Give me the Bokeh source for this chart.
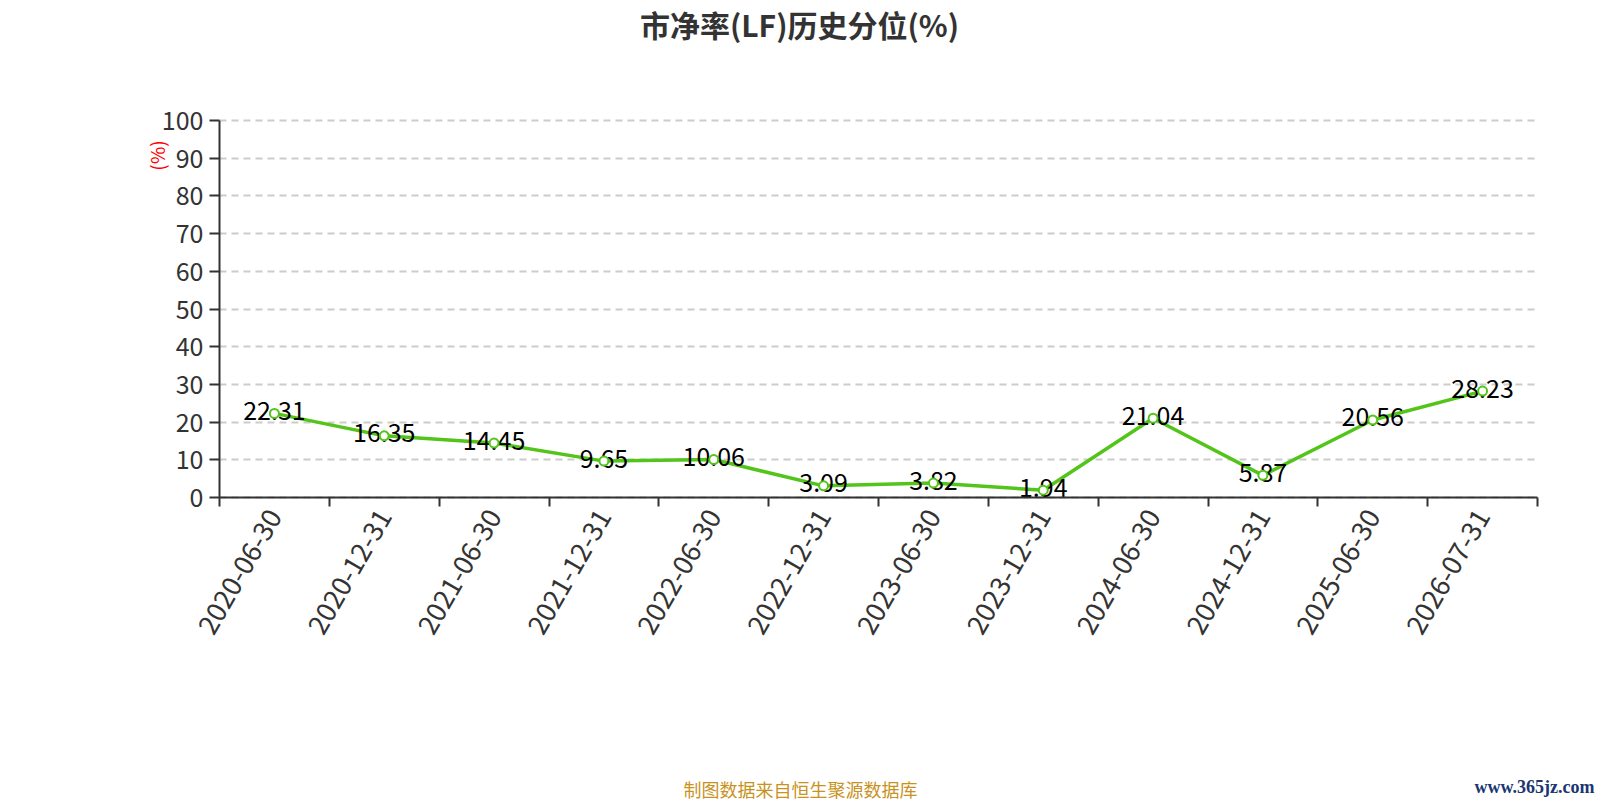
import math
from bokeh.plotting import figure
from bokeh.models import Range1d, FixedTicker, Label
from bokeh.embed import file_html
from bokeh.resources import INLINE
from bokeh.core.properties import value

# ---- data ----
categories = ["2020-06-30", "2020-12-31", "2021-06-30", "2021-12-31", "2022-06-30",
              "2022-12-31", "2023-06-30", "2023-12-31", "2024-06-30", "2024-12-31",
              "2025-06-30", "2026-07-31"]
pb_percentile = [22.31, 16.35, 14.45, 9.65, 10.06, 3.09, 3.82, 1.94, 21.04, 5.87, 20.56, 28.23]
y_ticks = [0, 10, 20, 30, 40, 50, 60, 70, 80, 90, 100]
title_text = "市净率(LF)历史分位(%)"
y_name = "(%)"
footer_text = "制图数据来自恒生聚源数据库"
watermark_text = "www.365jz.com"

# ---- styles / layout ----
GREEN = "#52C41A"
AXIS = "#333333"
FONT = "Noto Sans CJK SC"
W, H = 1600, 800
PL, PR, PT, PB = 219, 1537, 120, 497      # plot area in pixels

n = len(categories)
ux = (PR - PL) / n
uy = (PB - PT) / 100.0


def fx(px):
    return (px - PL) / ux


def fy(py):
    return (PB - py) / uy


x_pos = [i + 0.5 for i in range(n)]
labels_txt = ["%.2f" % v for v in pb_percentile]

p = figure(width=W, height=H,
           x_range=Range1d(fx(0), fx(W)), y_range=Range1d(fy(H), fy(0)),
           output_backend="svg", toolbar_location=None, min_border=0)
p.outline_line_color = None
p.background_fill_color = "white"
p.border_fill_color = "white"

xa = p.xaxis[0]
xa.fixed_location = 0
xa.bounds = (0, n)
xa.ticker = FixedTicker(ticks=x_pos, minor_ticks=list(range(n + 1)))
xa.major_label_overrides = {x: c for x, c in zip(x_pos, categories)}
xa.major_tick_line_color = None
xa.major_tick_in = 0
xa.major_tick_out = 0
xa.minor_tick_in = 0
xa.minor_tick_out = 9
xa.minor_tick_line_color = AXIS
xa.minor_tick_line_width = 2
xa.axis_line_color = AXIS
xa.axis_line_width = 2
xa.major_label_orientation = math.pi / 3
xa.major_label_standoff = 5
xa.major_label_text_font = FONT
xa.major_label_text_font_size = "27px"
xa.major_label_text_color = AXIS

ya = p.yaxis[0]
ya.fixed_location = 0
ya.bounds = (0, 100)
ya.ticker = FixedTicker(ticks=y_ticks, minor_ticks=[])
ya.major_tick_in = 0
ya.major_tick_out = 10
ya.major_tick_line_color = AXIS
ya.major_tick_line_width = 2
ya.axis_line_color = AXIS
ya.axis_line_width = 2
ya.major_label_standoff = 6
ya.major_label_text_font = FONT
ya.major_label_text_font_size = "25px"
ya.major_label_text_color = AXIS

p.xgrid.visible = False
p.ygrid.grid_line_color = "#cccccc"
p.ygrid.grid_line_dash = "7 5"
p.ygrid.grid_line_width = 2
p.ygrid.bounds = (0, 100)
p.ygrid.cross_bounds = (0, n)

p.line(x_pos, pb_percentile, line_color=GREEN, line_width=3.5)
p.text(x=x_pos, y=pb_percentile, text=labels_txt, text_align="center",
       text_baseline="middle", y_offset=-3, text_font=value(FONT),
       text_font_size="25px", text_color="black")
p.scatter(x_pos, pb_percentile, marker="circle", size=9, fill_color="white",
          line_color=GREEN, line_width=2)

p.add_layout(Label(x=fx(799), y=fy(23), text=title_text, text_align="center",
                   text_baseline="middle", text_font=FONT, text_font_size="30px",
                   text_font_style="bold", text_color="#333333"))
p.add_layout(Label(x=fx(156), y=fy(155), text=y_name, angle=math.pi / 2,
                   text_align="center", text_baseline="middle", text_font=FONT,
                   text_font_size="19px", text_color="red"))
p.add_layout(Label(x=fx(800), y=fy(788), text=footer_text, text_align="center",
                   text_baseline="middle", text_font=FONT, text_font_size="18px",
                   text_color="#C8921E"))
p.add_layout(Label(x=fx(1594), y=fy(786), text=watermark_text, text_align="right",
                   text_baseline="middle", text_font="Liberation Serif",
                   text_font_size="18px", text_font_style="bold",
                   text_color="#1A3672"))

open("out.html", "w").write(file_html(p, INLINE))
